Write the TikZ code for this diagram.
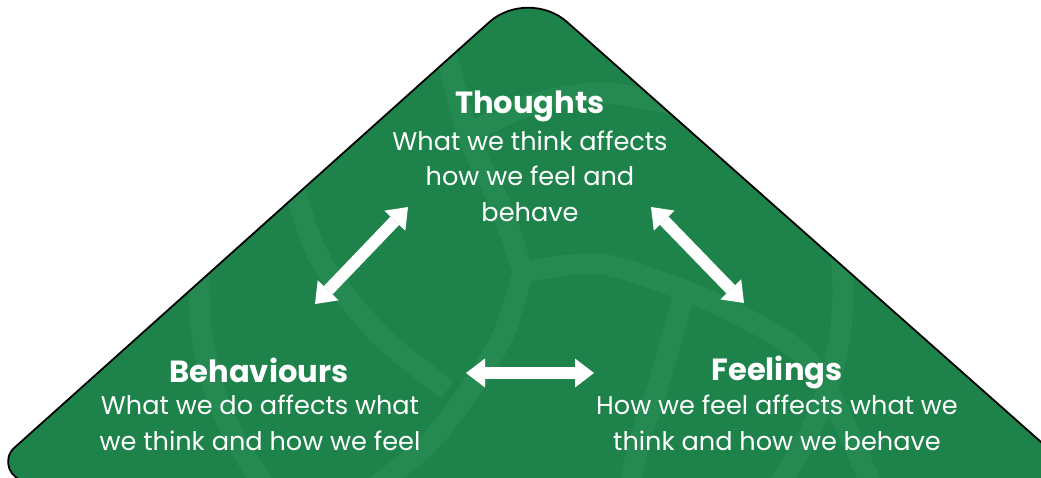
\documentclass[tikz,border=0pt]{standalone}
\usepackage{fontspec}
\setmainfont{Poppins}
\usetikzlibrary{arrows.meta}
\definecolor{cbtgreen}{RGB}{29,131,74}
\definecolor{cbtseam}{RGB}{36,138,82}
\begin{document}
\begin{tikzpicture}[x=1pt,y=-1pt,
  heading/.style={text=white,font=\fontsize{30.6}{36}\selectfont\bfseries,inner sep=0pt,anchor=base},
  caption/.style={text=white,font=\fontsize{25.6}{35.5}\selectfont,align=center,inner sep=0pt},
  link/.style={white,line width=12pt,
    {Triangle[length=19pt,width=29pt,line width=0pt]}-{Triangle[length=19pt,width=29pt,line width=0pt]}},
  seam/.style={cbtseam,line width=21pt}]
\useasboundingbox (0,0) rectangle (1041,477);

% green triangle with a rounded apex and a rounded lower-left corner
\fill[cbtgreen] (27.3,481) -- (1085,481) -- (566.9,21.9)
  .. controls (545.5,2.9) and (510.6,3.0) .. (489.3,22.1) -- (14.5,447.6)
  .. controls (1.4,459.4) and (9.7,481) .. (27.3,481) -- cycle;

% faint seams of a ball in the background
\begin{scope}
  \clip (27.3,481) -- (1085,481) -- (566.9,21.9)
    .. controls (545.5,2.9) and (510.6,3.0) .. (489.3,22.1) -- (14.5,447.6)
    .. controls (1.4,459.4) and (9.7,481) .. (27.3,481) -- cycle;
  \draw[seam] (521,290) circle (322);
  \draw[seam] plot[smooth] coordinates {(436,10) (448,60) (470,140) (501,207) (523,272)};
  \draw[seam] plot[smooth] coordinates {(523,272) (600,264) (683,290) (743,317) (800,352) (833,400) (865,470) (880,500)};
  \draw[seam] plot[smooth] coordinates {(523,272) (503,335) (470,390) (427,445) (370,490)};
  \draw[seam] plot[smooth] coordinates {(283,150) (318,255) (378,333) (447,390)};
  \draw[seam] plot[smooth] coordinates {(684,293) (660,380) (640,440) (626,500)};
  \draw[seam] plot[smooth] coordinates {(462,137) (530,105) (604,93) (700,110)};
\end{scope}

% outline
\draw[black,line width=1.8pt,line join=round] (27.3,481) -- (1085,481) -- (566.9,21.9)
  .. controls (545.5,2.9) and (510.6,3.0) .. (489.3,22.1) -- (14.5,447.6)
  .. controls (1.4,459.4) and (9.7,481) .. (27.3,481) -- cycle;

% labels
\node[heading] (thoughts) at (530,113) {Thoughts};
\node[caption] (thoughtsText) at (530,176) {What we think affects\\how we feel and\\behave};
\node[heading] (behaviours) at (259,382) {Behaviours};
\node[caption] (behavioursText) at (260,423) {What we do affects what\\we think and how we feel};
\node[heading] (feelings) at (777,380) {Feelings};
\node[caption] (feelingsText) at (777,423) {How we feel affects what we\\think and how we behave};

% two-way arrows
\coordinate (tA) at (408,207);
\coordinate (bA) at (315,304);
\coordinate (tB) at (651,207);
\coordinate (fB) at (744,303);
\coordinate (bC) at (466,373);
\coordinate (fC) at (594,373);
\draw[link] (bA) -- (tA);
\draw[link] (tB) -- (fB);
\draw[link] (bC) -- (fC);
\end{tikzpicture}
\end{document}
